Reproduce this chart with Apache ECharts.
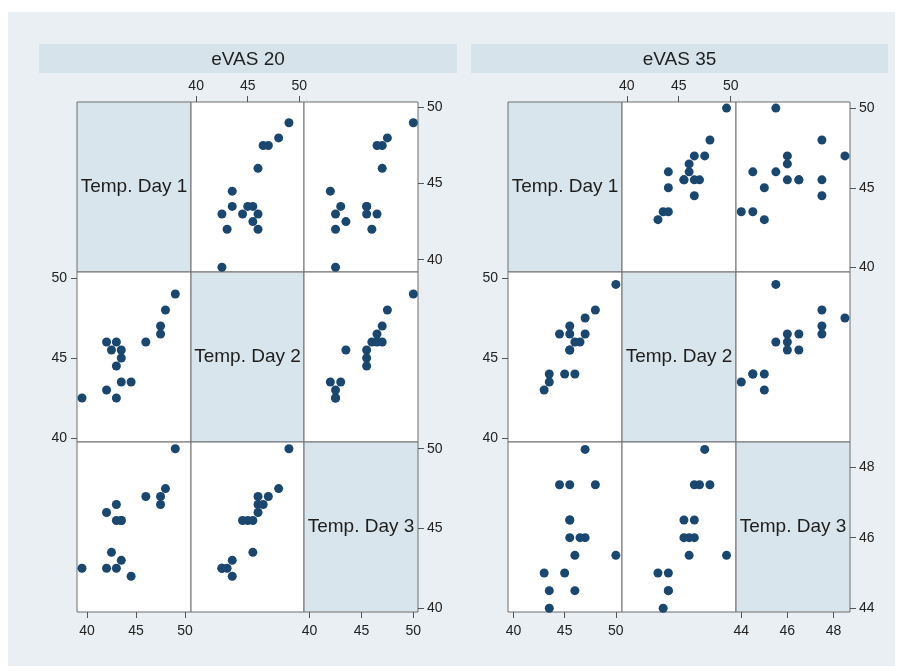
<!DOCTYPE html>
<html>
<head>
<meta charset="utf-8">
<script src="https://cdn.jsdelivr.net/npm/echarts@6/dist/echarts.min.js"></script>
<style>
html,body{margin:0;padding:0;background:#ffffff;}
#wrap{position:relative;width:901px;height:671px;}
#bg{position:absolute;left:8px;top:12px;width:887px;height:654px;background:#e9eff2;}
#c{position:absolute;left:0;top:0;width:901px;height:671px;}
</style>
</head>
<body>
<div id="wrap"><div id="bg"></div><div id="c"></div></div>
<script>
// ---------- data ----------
const panelTitles = ['eVAS 20', 'eVAS 35'];
const varNames = ['Temp. Day 1', 'Temp. Day 2', 'Temp. Day 3'];

const vas20Day1 = [39.5, 42, 43, 42.5, 43.5, 43.5, 43, 43.5, 44.5, 42, 43, 46, 47.5, 47.5, 48, 49];
const vas20Day2 = [42.5, 46, 46, 45.5, 45.5, 45, 44.5, 43.5, 43.5, 43, 42.5, 46, 47, 46.5, 48, 49];
const vas20Day3 = [42.5, 46, 46.5, 43.5, 45.5, 45.5, 45.5, 43, 42, 42.5, 42.5, 47, 47, 46.5, 47.5, 50];

const vas35Day1 = [50, 48, 47, 47, 45.5, 45.5, 44.5, 46, 46.5, 45.5, 43.5, 43.5, 45, 46, 43, 45.5];
const vas35Day2 = [49.6, 48, 47.5, 46.5, 47, 46.5, 46.5, 46, 46, 45.5, 44, 43.5, 44, 44, 43, 45.5];
const vas35Day3 = [45.5, 47.5, 48.5, 46, 47.5, 46.5, 47.5, 45.5, 46, 46, 44.5, 44, 45, 44.5, 45, 46.5];

const vas20Ticks = [[40, 45, 50], [40, 45, 50], [40, 45, 50]];
const vas35Ticks = [[40, 45, 50], [40, 45, 50], [44, 46, 48]];

// ---------- layout / scales ----------
const FONT = "'Liberation Sans', Arial, Helvetica, sans-serif";
const matrices = [
  {
    title: panelTitles[0],
    vars: [vas20Day1, vas20Day2, vas20Day3],
    ticks: vas20Ticks,
    xEdges: [77, 191, 304, 418],
    yEdges: [102, 272, 442, 612],
    colRange: [[38.99, 50.6], [39.5, 50.46], [39.46, 50.45]],
    rowRange: [[39.19, 50.36], [39.75, 50.375], [39.76, 50.42]],
    header: [39, 44, 418, 29]
  },
  {
    title: panelTitles[1],
    vars: [vas35Day1, vas35Day2, vas35Day3],
    ticks: vas35Ticks,
    xEdges: [508, 622, 736, 850],
    yEdges: [102, 272, 442, 612],
    colRange: [[39.47, 50.6], [39.54, 50.51], [43.77, 48.72]],
    rowRange: [[39.72, 50.38], [39.75, 50.375], [43.895, 48.71]],
    header: [471, 44, 417, 29]
  }
];

const grids = [], xAxes = [], yAxes = [], series = [], graphics = [];
let gi = 0;

matrices.forEach(function (m) {
  graphics.push({
    type: 'rect', shape: { x: m.header[0], y: m.header[1], width: m.header[2], height: m.header[3] },
    style: { fill: '#d6e3eb' }, silent: true
  });
  graphics.push({
    type: 'text', x: m.header[0] + m.header[2] / 2, y: m.header[1] + m.header[3] / 2 + 1,
    style: { text: m.title, fill: '#1e1e1e', font: '19px ' + FONT, align: 'center', verticalAlign: 'middle' },
    silent: true
  });
  for (let r = 0; r < 3; r++) {
    for (let c = 0; c < 3; c++) {
      const x0 = m.xEdges[c], x1 = m.xEdges[c + 1];
      const y0 = m.yEdges[r], y1 = m.yEdges[r + 1];
      const diag = r === c;
      grids.push({
        left: x0, top: y0, width: x1 - x0, height: y1 - y0,
        show: true, backgroundColor: diag ? '#d9e5ec' : '#ffffff',
        borderColor: '#6e6e6e', borderWidth: 1, containLabel: false
      });
      const showX = (r === 2 && c !== 1) || (r === 0 && c === 1);
      const xTop = (r === 0 && c === 1);
      const showY = (c === 2 && r !== 1) || (c === 0 && r === 1);
      const yLeft = (c === 0 && r === 1);
      xAxes.push({
        gridIndex: gi, type: 'value', min: m.colRange[c][0], max: m.colRange[c][1],
        position: xTop ? 'top' : 'bottom',
        axisLine: { show: false }, splitLine: { show: false },
        axisTick: { show: showX, customValues: m.ticks[c], length: 6, lineStyle: { color: '#555', width: 1 } },
        axisLabel: { show: showX, customValues: m.ticks[c], fontSize: 14, fontFamily: FONT, color: '#222', margin: xTop ? 9 : 12 }
      });
      yAxes.push({
        gridIndex: gi, type: 'value', min: m.rowRange[r][0], max: m.rowRange[r][1],
        position: yLeft ? 'left' : 'right',
        axisLine: { show: false }, splitLine: { show: false },
        axisTick: { show: showY, customValues: m.ticks[r], length: 6, lineStyle: { color: '#555', width: 1 } },
        axisLabel: { show: showY, customValues: m.ticks[r], fontSize: 14, fontFamily: FONT, color: '#222', margin: yLeft ? 10 : 9 }
      });
      if (diag) {
        graphics.push({
          type: 'text', x: (x0 + x1) / 2, y: (y0 + y1) / 2,
          style: { text: varNames[r], fill: '#1e1e1e', font: '19px ' + FONT, align: 'center', verticalAlign: 'middle' },
          silent: true
        });
      } else {
        const xs = m.vars[c], ys = m.vars[r];
        series.push({
          type: 'scatter', xAxisIndex: gi, yAxisIndex: gi,
          symbol: 'circle', symbolSize: 9,
          itemStyle: { color: '#1a476f', opacity: 1 },
          data: xs.map(function (v, i) { return [v, ys[i]]; }),
          silent: true, animation: false
        });
      }
      gi++;
    }
  }
});

const chart = echarts.init(document.getElementById('c'), null, { renderer: 'canvas' });
chart.setOption({
  backgroundColor: 'transparent',
  animation: false,
  textStyle: { fontFamily: FONT },
  grid: grids,
  xAxis: xAxes,
  yAxis: yAxes,
  series: series,
  graphic: graphics
});
</script>
</body>
</html>
